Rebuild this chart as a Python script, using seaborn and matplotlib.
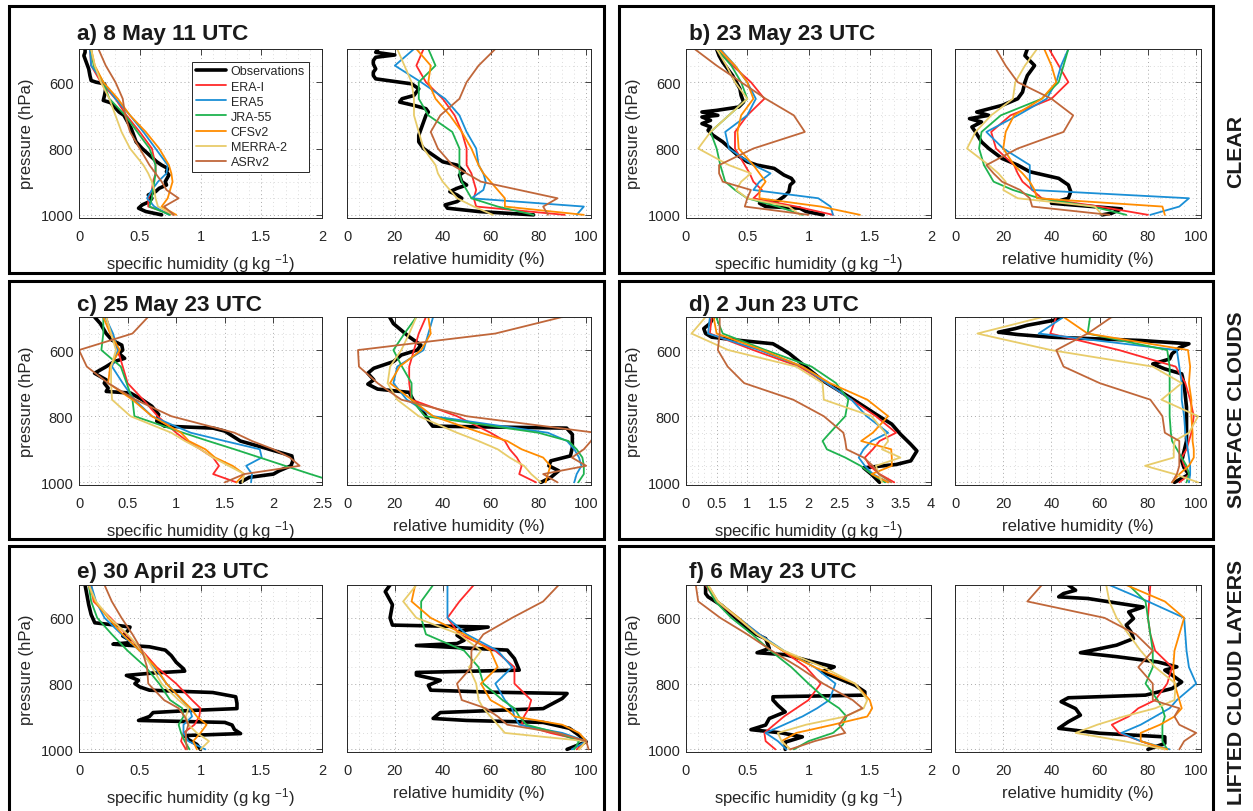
import numpy as np
import pandas as pd
import matplotlib
matplotlib.use('Agg')
import matplotlib.pyplot as plt
from matplotlib.lines import Line2D
from matplotlib.patches import Rectangle
from matplotlib.ticker import MultipleLocator, FuncFormatter
import seaborn as sns

sns.set_theme(style='white')
plt.rcParams['font.family'] = ['Liberation Sans', 'DejaVu Sans']
plt.rcParams['mathtext.fontset'] = 'custom'
plt.rcParams['mathtext.rm'] = 'Liberation Sans'
plt.rcParams['mathtext.it'] = 'Liberation Sans:italic'

# ---------------- data ----------------
MODELS = ['ERA-I', 'ERA5', 'JRA-55', 'CFSv2', 'MERRA-2', 'ASRv2']
COLORS = ['#ff2a2a', '#1a8fd6', '#1fb34f', '#ff8c00', '#e8cc6a', '#c0673a']
LEVELS = [500, 550, 600, 650, 700, 750, 800, 850, 875, 900, 925, 950, 975, 1000]

TITLES = ['a) 8 May 11 UTC', 'b) 23 May 23 UTC', 'c) 25 May 23 UTC',
          'd) 2 Jun 23 UTC', 'e) 30 April 23 UTC', 'f) 6 May 23 UTC']
ROW_LABELS = ['CLEAR', 'SURFACE CLOUDS', 'LIFTED CLOUD LAYERS']
Q_MAX = [2, 2, 2.5, 4, 2, 2]

# panel a
a_obs_q_p = [500, 510, 520, 540, 560, 580, 595, 600, 605, 620, 640, 655, 662, 670, 690, 700, 720, 740, 760, 780,
             800, 820, 840, 850, 860, 870, 880, 900, 910, 920, 930, 940, 950, 960, 970, 980, 990, 1000]
a_obs_q = [0.05, 0.05, 0.04, 0.06, 0.08, 0.09, 0.1, 0.14, 0.21, 0.22, 0.21, 0.2, 0.26, 0.28, 0.33, 0.37, 0.4, 0.43,
           0.45, 0.47, 0.52, 0.58, 0.64, 0.68, 0.73, 0.72, 0.74, 0.71, 0.72, 0.66, 0.63, 0.57, 0.6, 0.58, 0.52, 0.49,
           0.55, 0.68]
a_obs_rh_p = [500, 510, 518, 525, 535, 545, 560, 570, 580, 590, 598, 605, 620, 640, 650, 660, 670, 680, 690, 700,
              720, 740, 760, 780, 800, 820, 840, 850, 870, 880, 900, 910, 920, 930, 940, 950, 960, 970, 980, 990, 1000]
a_obs_rh = [13, 12, 20, 12, 11, 11, 12, 11, 11, 12, 20, 27, 30, 28, 23, 22, 28, 33, 34, 33, 32, 31, 30, 30, 32, 36,
            40, 46, 49, 47, 48, 50, 46, 43, 46, 48, 46, 41, 42, 55, 78]
a_mod_q = [
    [0.09, 0.1, 0.18, 0.3, 0.39, 0.5, 0.6, 0.63, 0.63, 0.61, 0.6, 0.57, 0.57, 0.78],
    [0.09, 0.1, 0.2, 0.3, 0.42, 0.53, 0.63, 0.73, 0.72, 0.65, 0.6, 0.56, 0.62, 0.74],
    [0.1, 0.12, 0.2, 0.25, 0.38, 0.48, 0.58, 0.63, 0.63, 0.62, 0.61, 0.6, 0.58, 0.75],
    [0.1, 0.13, 0.2, 0.32, 0.42, 0.55, 0.66, 0.74, 0.76, 0.77, 0.75, 0.73, 0.68, 0.8],
    [0.1, 0.13, 0.18, 0.25, 0.3, 0.35, 0.42, 0.53, 0.57, 0.6, 0.62, 0.63, 0.65, 0.78],
    [0.16, 0.22, 0.3, 0.36, 0.38, 0.42, 0.5, 0.58, 0.63, 0.68, 0.72, 0.82, 0.7, 0.78],
]
a_mod_rh = [
    [32, 29, 33, 40, 45, 48, 50, 50, 52, 53, 54, 53, 54, 91],
    [28, 20, 31, 41, 47, 50, 54, 55, 57, 58, 57, 52, 99, 96],
    [34, 37, 30, 30, 34, 44, 47, 47, 47, 48, 50, 52, 63, 78],
    [29, 35, 34, 37, 43, 48, 52, 55, 57, 60, 63, 66, 66, 99],
    [21, 24, 27, 28, 28, 30, 32, 37, 38, 40, 43, 46, 53, 61],
    [62, 55, 50, 47, 39, 35, 38, 44, 50, 56, 72, 88, 82, 84],
]

# panel b
b_obs_q_p = [500, 520, 540, 560, 580, 600, 620, 640, 660, 675, 685, 690, 700, 705, 715, 725, 735, 745, 760, 780,
             800, 820, 840, 850, 860, 870, 880, 890, 900, 910, 930, 945, 960, 965, 975, 980, 990, 1000]
b_obs_q = [0.25, 0.27, 0.3, 0.34, 0.38, 0.41, 0.44, 0.45, 0.47, 0.43, 0.25, 0.13, 0.26, 0.13, 0.2, 0.13, 0.2, 0.18,
           0.22, 0.3, 0.36, 0.42, 0.5, 0.58, 0.72, 0.76, 0.8, 0.86, 0.88, 0.85, 0.84, 0.8, 0.74, 0.6, 0.65, 0.93,
           0.98, 1.12]
b_obs_rh_p = [500, 520, 550, 580, 600, 630, 650, 670, 690, 700, 710, 720, 735, 750, 780, 800, 830, 850, 870, 890,
              910, 930, 950, 965, 975, 982, 995, 1000]
b_obs_rh = [30, 29, 33, 30, 29, 28, 26, 19.5, 9, 14, 6, 11, 7, 8.5, 11, 14, 19.5, 26, 31, 43, 47, 48, 47, 40, 57,
            69, 65, 61]
b_mod_q = [
    [0.25, 0.38, 0.53, 0.64, 0.5, 0.4, 0.4, 0.48, 0.52, 0.55, 0.62, 0.55, 0.9, 1.2],
    [0.28, 0.4, 0.5, 0.57, 0.5, 0.32, 0.35, 0.55, 0.69, 0.6, 0.55, 1.08, 1.18, 1.2],
    [0.25, 0.37, 0.45, 0.5, 0.35, 0.2, 0.25, 0.28, 0.3, 0.32, 0.4, 0.5, 0.75, 0.95],
    [0.27, 0.4, 0.5, 0.55, 0.45, 0.42, 0.43, 0.55, 0.6, 0.65, 0.6, 0.6, 1.1, 1.42],
    [0.25, 0.33, 0.4, 0.5, 0.35, 0.2, 0.1, 0.35, 0.53, 0.45, 0.41, 0.5, 0.84, 0.93],
    [0.07, 0.25, 0.45, 0.65, 0.88, 0.97, 0.55, 0.27, 0.27, 0.3, 0.53, 0.5, 0.48, 1.0],
]
b_mod_rh = [
    [39, 43, 47, 40, 23, 15, 17, 24.5, 26, 28, 32, 36, 60, 80],
    [47, 44, 42, 38, 26, 13, 20, 31, 31, 31, 32, 97, 93, 81],
    [47, 45, 43, 36, 19, 11, 10, 12, 14, 16, 24, 35, 57, 71],
    [37, 40, 42, 36, 24.5, 21, 20, 24.5, 28, 31, 33, 34, 86, 87],
    [34, 29, 25, 24, 15, 8.5, 5, 14, 18, 21, 20, 26, 58, 61],
    [17, 21, 26, 40, 49, 45, 26, 13, 16, 19.5, 27, 31, 32, 64],
]

# panel c
c_obs_q_p = [500, 520, 550, 570, 585, 600, 610, 625, 635, 650, 670, 690, 700, 715, 725, 730, 750, 770, 795, 815,
             830, 836, 845, 875, 895, 920, 935, 950, 965, 975, 985, 1000]
c_obs_q = [0.16, 0.22, 0.28, 0.34, 0.44, 0.45, 0.41, 0.47, 0.36, 0.28, 0.16, 0.28, 0.26, 0.3, 0.28, 0.53, 0.65,
           0.75, 0.82, 0.8, 0.88, 1.38, 1.5, 1.66, 1.9, 2.19, 2.2, 2.18, 2.06, 2.0, 1.75, 1.66]
c_obs_rh_p = [500, 520, 560, 585, 600, 615, 635, 655, 670, 690, 703, 718, 728, 750, 795, 815, 830, 836, 855, 895,
              920, 935, 950, 965, 985, 1000]
c_obs_rh = [17.8, 19.4, 26, 30.9, 29.3, 22.7, 19.4, 11.2, 8.7, 11.2, 8.7, 12.8, 26, 27.6, 32.6, 34.2, 35.8, 91.8,
            94.2, 94.2, 93.4, 85.2, 84.4, 88.5, 85.2, 81.1]
c_mod_q = [
    [0.28, 0.33, 0.4, 0.45, 0.5, 0.66, 0.81, 1.0, 1.11, 1.25, 1.38, 1.44, 1.38, 1.62],
    [0.27, 0.35, 0.4, 0.34, 0.45, 0.57, 0.75, 1.15, 1.5, 1.86, 1.88, 1.72, 1.78, 1.77],
    [0.25, 0.25, 0.23, 0.43, 0.49, 0.55, 0.57, 1.07, 1.33, 1.6, 1.86, 2.12, 2.38, 2.65],
    [0.25, 0.32, 0.42, 0.32, 0.3, 0.55, 0.75, 1.05, 1.13, 1.3, 1.4, 1.58, 1.7, 1.62],
    [0.28, 0.33, 0.38, 0.33, 0.33, 0.34, 0.53, 0.95, 1.09, 1.25, 1.38, 1.54, 1.7, 1.68],
    [0.71, 0.55, 0.0, 0.08, 0.3, 0.58, 0.95, 1.6, 1.78, 2.0, 2.17, 2.27, 1.7, 1.5],
]
c_mod_rh = [
    [33, 30, 28, 26, 26, 27, 46, 60, 66, 68, 71, 73, 72, 79],
    [36, 34, 32, 21, 19.4, 25, 36, 84, 92, 95, 97, 98, 96, 95],
    [29, 24, 19.4, 23, 27, 27, 32.6, 80, 92.6, 96, 98.4, 99, 99, 96.7],
    [34, 35, 31, 22, 18, 27, 36, 56, 67, 73, 82, 85, 84, 83],
    [29, 26, 22.7, 18, 17, 21, 30, 46, 55, 63, 68, 74, 77, 81],
    [90, 62, 4.6, 5, 12.8, 22.7, 50, 104, 102, 99, 94, 100, 82, 88],
]

# panel d
d_obs_q_p = [500, 520, 535, 550, 561, 571, 581, 596, 611, 632, 662, 692, 723, 753, 794, 824, 854, 885, 905, 935,
             946, 956, 976, 1000]
d_obs_q = [0.45, 0.39, 0.29, 0.32, 0.42, 0.89, 1.42, 1.56, 1.69, 1.83, 2.03, 2.23, 2.5, 2.76, 3.1, 3.36, 3.5, 3.67,
           3.77, 3.67, 3.43, 2.9, 3.03, 3.16]
d_obs_rh_p = [500, 510, 525, 535, 546, 553, 561, 571, 581, 593, 611, 627, 642, 657, 672, 703, 773, 875, 935, 956,
              976, 1000]
d_obs_rh = [44, 41, 30, 25, 18, 26, 40, 77, 97, 93, 90, 89, 82, 87, 94, 95, 96, 96, 94, 95, 97, 91]
d_mod_q = [
    [0.42, 0.39, 1.1, 1.85, 2.3, 2.7, 3.1, 3.43, 3.16, 3.05, 2.92, 3.0, 3.16, 3.4],
    [0.39, 0.36, 1.2, 1.9, 2.3, 2.7, 2.95, 3.3, 3.03, 2.9, 2.82, 2.92, 3.05, 3.3],
    [0.49, 0.6, 1.3, 2.05, 2.45, 2.65, 2.6, 2.35, 2.23, 2.3, 2.6, 2.85, 3.03, 3.25],
    [0.45, 0.5, 1.25, 1.9, 2.35, 2.96, 3.3, 3.05, 2.86, 3.35, 3.36, 3.36, 3.03, 3.3],
    [0.32, 0.09, 0.69, 1.8, 2.23, 2.25, 3.03, 3.25, 3.3, 3.2, 3.5, 3.1, 3.15, 3.2],
    [0.55, 0.55, 0.52, 0.68, 0.95, 1.75, 2.25, 2.57, 2.6, 2.62, 2.9, 3.05, 3.15, 3.35],
]
d_mod_rh = [
    [42, 39.5, 68, 91.5, 95.5, 97.5, 99, 98, 97, 96, 94, 95, 97.5, 93],
    [45, 34.7, 92, 93, 94, 94, 95, 95.5, 96, 96.5, 97, 97.5, 97.5, 97],
    [56, 55, 88, 89, 89, 89, 89, 89.5, 90, 92, 94, 96, 97, 96],
    [45, 55, 96.6, 97.5, 97, 98, 98, 98.5, 98.5, 99, 99, 97, 93, 90],
    [36.4, 9.3, 39.8, 82, 94, 85.6, 100.8, 97, 91, 90.7, 90.7, 78.8, 91, 100.8],
    [65, 55, 42, 45, 60, 81, 86, 87, 93, 93, 93, 93, 92, 90],
]

# panel e
e_obs_q_p = [500, 520, 540, 560, 590, 615, 622, 628, 640, 655, 668, 676, 680, 688, 698, 715, 735, 755, 762, 768,
             775, 790, 800, 810, 820, 827, 840, 860, 876, 882, 888, 900, 912, 918, 926, 940, 952, 958, 970, 985, 1000]
e_obs_q = [0.05, 0.06, 0.07, 0.08, 0.1, 0.13, 0.3, 0.42, 0.4, 0.36, 0.42, 0.4, 0.28, 0.58, 0.71, 0.76, 0.8, 0.86,
           0.87, 0.6, 0.39, 0.49, 0.46, 0.5, 0.58, 1.1, 1.29, 1.3, 1.3, 0.9, 0.61, 0.58, 0.49, 1.2, 1.26, 1.28, 1.33,
           0.87, 0.9, 0.97, 1.0]
e_obs_rh_p = [500, 520, 560, 600, 622, 628, 640, 653, 668, 678, 684, 698, 724, 759, 766, 774, 790, 805, 820, 826,
              830, 845, 876, 882, 888, 906, 912, 918, 936, 957, 977, 1000]
e_obs_rh = [18, 16, 19, 18, 19, 59, 47, 46, 49, 46, 29, 67, 70, 72, 29, 29, 39, 34, 35, 60, 92, 90, 82, 60, 39, 36,
            50, 82, 93, 97, 100, 92]
e_mod_q = [
    [0.1, 0.12, 0.26, 0.39, 0.52, 0.64, 0.8, 0.93, 1.0, 0.99, 0.95, 0.86, 0.84, 0.88],
    [0.1, 0.14, 0.21, 0.35, 0.5, 0.62, 0.72, 0.85, 0.91, 0.93, 0.86, 0.86, 0.9, 1.04],
    [0.08, 0.1, 0.15, 0.27, 0.4, 0.55, 0.66, 0.75, 0.85, 0.86, 0.82, 0.84, 0.87, 0.91],
    [0.08, 0.13, 0.24, 0.36, 0.5, 0.63, 0.72, 0.85, 0.92, 0.97, 1.05, 1.0, 0.94, 0.97],
    [0.08, 0.14, 0.25, 0.4, 0.52, 0.6, 0.68, 0.82, 0.9, 0.88, 0.9, 0.97, 1.07, 1.0],
    [0.21, 0.27, 0.35, 0.44, 0.52, 0.56, 0.57, 0.7, 0.82, 0.87, 0.9, 0.88, 0.88, 0.89],
]
e_mod_rh = [
    [53, 47, 42, 47, 62, 70, 70, 77, 76, 74, 73, 85, 100, 96],
    [42, 42, 42, 50, 63, 69, 62, 66, 69, 70, 72, 90, 100, 94],
    [36, 31, 31, 33, 49, 55, 57, 65, 70, 72, 75, 88, 97, 95],
    [28.5, 27, 35, 49, 60, 63, 56, 60, 66, 70, 90, 97, 100, 97],
    [29, 23.5, 29, 47, 56, 51, 54, 55, 57, 60, 63, 66, 100, 97],
    [88.5, 82, 69, 57, 52, 52, 46, 48, 58, 63, 67, 88, 100, 101],
]

# panel f
f_obs_q_p = [500, 526, 536, 562, 602, 643, 663, 693, 706, 712, 735, 749, 764, 785, 805, 825, 835, 840, 850, 866,
             886, 906, 926, 940, 950, 962, 978, 1000]
f_obs_q = [0.16, 0.16, 0.18, 0.29, 0.41, 0.53, 0.65, 0.68, 0.58, 0.81, 1.05, 1.21, 1.11, 1.25, 1.38, 1.46, 1.46,
           0.71, 0.71, 0.75, 0.81, 0.68, 0.65, 0.53, 0.78, 0.95, 0.81, 0.81]
f_obs_rh_p = [500, 516, 526, 536, 541, 557, 567, 582, 602, 622, 643, 663, 683, 706, 718, 734, 749, 759, 774, 795,
              815, 835, 843, 855, 876, 896, 916, 936, 951, 962, 982, 1000]
f_obs_rh = [47, 50, 45, 43, 55, 69, 78, 72, 74, 71, 73, 74, 67, 52, 67, 84, 92, 87, 90, 94, 90, 79, 47, 44, 50, 52,
            47, 43, 60, 87, 87, 80]
f_mod_q = [
    [0.16, 0.25, 0.42, 0.6, 0.79, 0.98, 1.1, 1.0, 0.9, 0.8, 0.72, 0.64, 0.65, 0.73],
    [0.17, 0.26, 0.43, 0.6, 0.8, 1.05, 1.22, 1.17, 1.07, 0.95, 0.8, 0.65, 0.75, 0.82],
    [0.17, 0.24, 0.37, 0.54, 0.69, 0.86, 1.0, 1.15, 1.25, 1.31, 1.28, 1.2, 1.0, 0.88],
    [0.18, 0.26, 0.43, 0.58, 0.79, 1.05, 1.38, 1.5, 1.52, 1.48, 1.2, 0.9, 0.78, 0.85],
    [0.18, 0.26, 0.42, 0.58, 0.8, 1.12, 1.38, 1.48, 1.45, 1.3, 0.98, 0.75, 0.78, 0.85],
    [0.08, 0.1, 0.28, 0.5, 0.7, 0.92, 1.12, 1.36, 1.44, 1.3, 1.25, 1.3, 1.05, 0.85],
]
f_mod_rh = [
    [81, 80.5, 80, 81, 83, 90, 88, 83, 76, 72, 65, 68, 77, 87],
    [64, 80, 95, 95.5, 96, 97, 100, 92, 89, 83, 77, 69, 77, 89],
    [72, 79, 80, 81, 82, 82, 79, 84, 86, 87, 86, 86, 86, 88],
    [71, 87, 95, 93, 91, 90.5, 91, 93, 94, 91, 85, 77, 77, 88],
    [62.7, 64, 67, 72, 77, 83, 91.5, 91, 83, 70, 59, 50, 70, 87],
    [36, 30, 62, 75, 82, 76, 82, 82, 93, 91, 93, 100, 95, 93],
]

PANELS = [
    (a_obs_q_p, a_obs_q, a_obs_rh_p, a_obs_rh, a_mod_q, a_mod_rh),
    (b_obs_q_p, b_obs_q, b_obs_rh_p, b_obs_rh, b_mod_q, b_mod_rh),
    (c_obs_q_p, c_obs_q, c_obs_rh_p, c_obs_rh, c_mod_q, c_mod_rh),
    (d_obs_q_p, d_obs_q, d_obs_rh_p, d_obs_rh, d_mod_q, d_mod_rh),
    (e_obs_q_p, e_obs_q, e_obs_rh_p, e_obs_rh, e_mod_q, e_mod_rh),
    (f_obs_q_p, f_obs_q, f_obs_rh_p, f_obs_rh, f_mod_q, f_mod_rh),
]

# ---------------- layout (pixels) ----------------
W, H = 1253, 812
fig = plt.figure(figsize=(W / 100, H / 100), dpi=100)
fig.patch.set_facecolor('white')

COL_X = [(79, 322, 347, 591), (686, 931, 955, 1201)]
ROW_Y = [(50, 218.5), (318, 486), (586, 753)]
FRAME_X = [(9, 604), (619, 1213)]
FRAME_Y = [(7, 274), (282, 540), (547, 820)]
TITLE_X = [77, 689]
TITLE_Y = [40, 311, 578]
SIDE_Y = [152, 410, 682]
INK = '#262626'
palette = dict(zip(MODELS, COLORS))


def px_axes(left, top, right, bottom):
    return fig.add_axes([left / W, 1 - bottom / H, (right - left) / W, (bottom - top) / H])


def models_frame(mod):
    return pd.DataFrame({
        'pressure': LEVELS * len(MODELS),
        'value': [v for series in mod for v in series],
        'source': [m for m in MODELS for _ in LEVELS],
    })


def style(ax, xmax, major, minor, ylabels):
    ax.set_xlim(0, xmax)
    ax.set_ylim(1008, 500)
    ax.xaxis.set_major_locator(MultipleLocator(major))
    ax.xaxis.set_minor_locator(MultipleLocator(minor))
    ax.xaxis.set_major_formatter(FuncFormatter(lambda v, p: f'{v:g}'))
    ax.set_yticks([600, 800, 1000])
    ax.yaxis.set_minor_locator(MultipleLocator(50))
    ax.grid(which='major', ls=(0, (1, 3)), lw=0.7, color='#a8a8a8')
    ax.grid(which='minor', ls=(0, (1, 3)), lw=0.7, color='#dcdcdc')
    ax.set_axisbelow(True)
    ax.tick_params(which='major', direction='in', top=True, right=True, length=4, width=0.6,
                   color=INK, labelsize=10.5, labelcolor=INK)
    ax.tick_params(axis='x', pad=8)
    ax.tick_params(axis='y', pad=4)
    ax.tick_params(which='minor', length=0)
    ax.tick_params(labelleft=ylabels)
    for s in ax.spines.values():
        s.set_color(INK)
        s.set_linewidth(0.7)


def draw(ax, obs_p, obs_v, mod):
    sns.lineplot(x=obs_v, y=obs_p, color='black', lw=2.6, estimator=None, sort=False,
                 orient='y', ax=ax)
    sns.lineplot(data=models_frame(mod), x='value', y='pressure', hue='source', hue_order=MODELS,
                 palette=palette, lw=1.3, estimator=None, sort=False, orient='y', legend=False, ax=ax)


for i, (oqp, oq, orp, orh, mq, mrh) in enumerate(PANELS):
    row, col = divmod(i, 2)
    x0, x1, x2, x3 = COL_X[col]
    top, bottom = ROW_Y[row]

    axq = px_axes(x0, top, x1, bottom)
    draw(axq, oqp, oq, mq)
    style(axq, Q_MAX[i], 0.5, 0.1, True)
    axq.set_xlabel('specific humidity (g kg $^{-1}$)', fontsize=12, color=INK, labelpad=6)
    axq.set_ylabel('pressure (hPa)', fontsize=12, color=INK, labelpad=5)

    axr = px_axes(x2, top, x3, bottom)
    draw(axr, orp, orh, mrh)
    style(axr, 102, 20, 5, False)
    axr.set_xlabel('relative humidity (%)', fontsize=12, color=INK, labelpad=6)
    axr.set_ylabel('')

    if i == 0:
        handles = [Line2D([], [], color='black', lw=2.6)] + \
                  [Line2D([], [], color=c, lw=1.3) for c in COLORS]
        leg = axq.legend(handles, ['Observations'] + MODELS, loc='upper left',
                         bbox_to_anchor=(0.465, 0.925), fontsize=9, frameon=True, fancybox=False,
                         edgecolor=INK, framealpha=1, borderpad=0.3, labelspacing=0.25,
                         handlelength=2.4, handletextpad=0.4, borderaxespad=0)
        leg.get_frame().set_linewidth(0.7)

    fig.text(TITLE_X[col] / W, 1 - TITLE_Y[row] / H, TITLES[i], fontsize=16.2,
             fontweight='bold', color='#1a1a1a', ha='left', va='baseline')

    fx0, fx1 = FRAME_X[col]
    fy0, fy1 = FRAME_Y[row]
    fig.add_artist(Rectangle((fx0 / W, 1 - fy1 / H), (fx1 - fx0) / W, (fy1 - fy0) / H,
                             transform=fig.transFigure, fill=False, ec='black', lw=2.2))

for row in range(3):
    fig.text(1236 / W, 1 - SIDE_Y[row] / H, ROW_LABELS[row], rotation=90, fontsize=15.3,
             fontweight='bold', color='#1a1a1a', ha='center', va='center')

fig.savefig('out.png', dpi=100, facecolor='white')
